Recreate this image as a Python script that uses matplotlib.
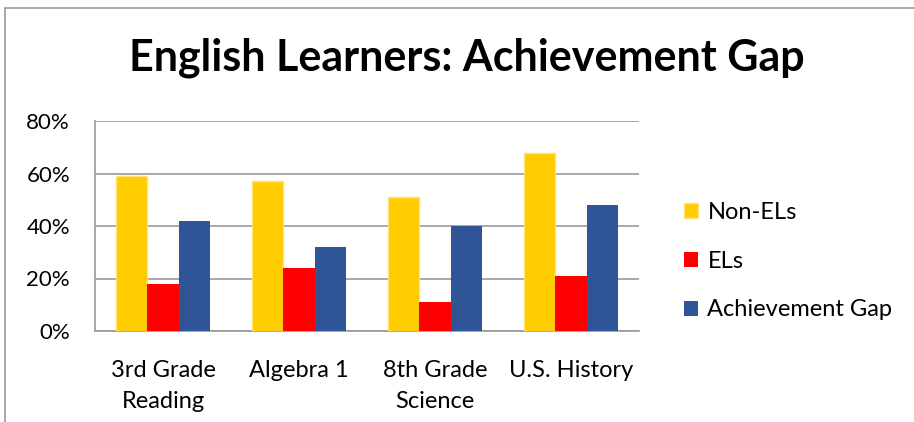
import numpy as np
import matplotlib.pyplot as plt
from matplotlib.patches import Rectangle
from matplotlib.ticker import FuncFormatter

categories = ['3rd Grade\nReading', 'Algebra 1', '8th Grade\nScience', 'U.S. History']
non_els = [59, 57, 51, 68]
els = [18, 24, 11, 21]
gap = [42, 32, 40, 48]
series_names = ['Non-ELs', 'ELs', 'Achievement Gap']

plt.rcParams['font.family'] = ['Lato', 'DejaVu Sans']

fig = plt.figure(figsize=(9.14, 4.22), dpi=100)
ax = fig.add_axes([95 / 914, 1 - 331 / 422, (639 - 95) / 914, 210 / 422])

# chart border (cut off on right and bottom)
fig.patches.append(Rectangle((5 / 914, -0.1), 1.2, (422 - 8) / 422 + 0.1,
                             transform=fig.transFigure, fill=False,
                             edgecolor='#9a9a9a', linewidth=1.2))

x = np.arange(len(categories))
w = 0.228
ax.bar(x - w, non_els, w, color='#FFCC00', edgecolor='#FFE27A', linewidth=1, label=series_names[0], zorder=3)
ax.bar(x, els, w, color='#FF0000', label=series_names[1], zorder=3)
ax.bar(x + w, gap, w, color='#2F5597', label=series_names[2], zorder=3)

ax.set_xlim(-0.5, len(categories) - 0.5)
ax.set_ylim(0, 80)
ax.set_yticks([0, 20, 40, 60, 80])
ax.yaxis.set_major_formatter(FuncFormatter(lambda v, p: f'{v:.0f}%'))
ax.grid(axis='y', color='#9a9a9a', linewidth=1.2, zorder=0)
ax.set_xticks(x)
ax.set_xticklabels(categories, fontsize=17, linespacing=1.6)
ax.tick_params(axis='y', labelsize=16, length=0, pad=18)
ax.tick_params(axis='x', length=0, pad=21)
for s in ['top', 'right']:
    ax.spines[s].set_visible(False)
for s in ['left', 'bottom']:
    ax.spines[s].set_color('#9a9a9a')
    ax.spines[s].set_linewidth(1.2)

fig.text(467 / 914, 1 - 58 / 422, 'English Learners: Achievement Gap', ha='center', va='center',
         fontsize=31, fontweight='bold')

ax.legend(loc='center left', bbox_to_anchor=(672 / 914, 1 - 261 / 422), bbox_transform=fig.transFigure,
          frameon=False, fontsize=17, handlelength=0.6, handleheight=0.6, handletextpad=0.4,
          labelspacing=1.18, borderpad=0)

fig.savefig('out.png', dpi=100)
